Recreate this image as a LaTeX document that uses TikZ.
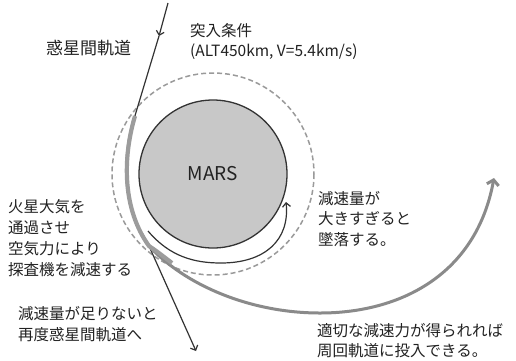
\documentclass[tikz,border=0pt]{standalone}
\usepackage{fontspec}
\setmainfont{Noto Sans CJK JP}
\usetikzlibrary{arrows.meta}
\definecolor{marsfill}{HTML}{C8C8C8}
\definecolor{marsline}{HTML}{333333}
\definecolor{dashgray}{HTML}{9A9A9A}
\definecolor{pathgray}{HTML}{8A8A8A}
\definecolor{bandgray}{HTML}{9C9C9C}
\definecolor{txt}{HTML}{222222}
\begin{document}
\begin{tikzpicture}[x=1pt,y=-1pt,
  lbl/.style={inner sep=0pt,anchor=west,align=left,text=txt,font=\fontsize{15.5}{20.8}\selectfont},
  small/.style={inner sep=0pt,anchor=west,text=txt,font=\fontsize{15.5}{18}\selectfont},
  blackline/.style={draw=marsline,line width=1.2pt},
  blackarrow/.style={-{Straight Barb[length=4pt,width=8pt]}},
  grayline/.style={draw=pathgray,line width=3pt},
  band/.style={draw=bandgray,line width=4.2pt},
  atmo/.style={draw=dashgray,line width=1.5pt,dash pattern=on 5pt off 3pt}]
\useasboundingbox (0,0) rectangle (516,360);
\fill[white] (0,0) rectangle (516,360);

% atmosphere boundary
\coordinate (c) at (213,174);
\draw[atmo] (c) circle[radius=101];
% Mars
\node[circle,draw=marsline,fill=marsfill,line width=1.3pt,minimum size=148pt,inner sep=0pt] (mars) at (c) {};
\node[inner sep=0pt,text=txt,font=\fontsize{19}{22}\selectfont] (marslbl) at (c) {MARS};

% coordinates of trajectories
\coordinate (in0) at (168,3);
\coordinate (inmid) at (159,36);
\coordinate (entry) at (134,119);
\coordinate (exit) at (149,246);
\coordinate (outend) at (196,351);
\coordinate (lowpt) at (320,313);
\coordinate (orbend) at (494,178);
\coordinate (cr0) at (148,231);
\coordinate (crbot) at (221,263);
\coordinate (crend) at (286,202);

% incoming / escape black trajectory
\draw[blackline,blackarrow] (in0) -- (inmid);
\draw[blackline] (inmid) -- (entry);
\draw[blackline] (entry) .. controls (122,160) and (123,210) .. (exit);
\draw[blackline,blackarrow] (exit) -- (outend);

% crash trajectory
\draw[blackline,blackarrow] (cr0) .. controls (170,257) and (195,263) .. (crbot)
   .. controls (265,263) and (290,240) .. (crend);

% capture trajectory (gray)
\draw[grayline,-{Straight Barb[length=5pt,width=12pt]}] (entry) .. controls (122,160) and (123,210) .. (exit)
   .. controls (185,285) and (250,313) .. (lowpt)
   .. controls (400,313) and (476,275) .. (orbend);
% aerobraking band
\draw[band] (135,116) .. controls (122,160) and (123,210) .. (exit) .. controls (158,252) and (164,257) .. (172,263);

% labels
\node[lbl,font=\fontsize{17}{20}\selectfont] (l1) at (46,48) {惑星間軌道};
\node[lbl] (l2) at (190,31) {突入条件};
\node[small] (l3) at (190,52) {(ALT450km, V=5.4km/s)};
\node[lbl] (l4) at (8,238) {火星大気を\\通過させ\\空気力により\\探査機を減速する};
\node[lbl] (l5) at (18,324) {減速量が足りないと\\再度惑星間軌道へ};
\node[lbl] (l6) at (318,219) {減速量が\\大きすぎると\\墜落する。};
\node[lbl] (l7) at (317,340.5) {適切な減速力が得られれば\\周回軌道に投入できる。};
\end{tikzpicture}
\end{document}
